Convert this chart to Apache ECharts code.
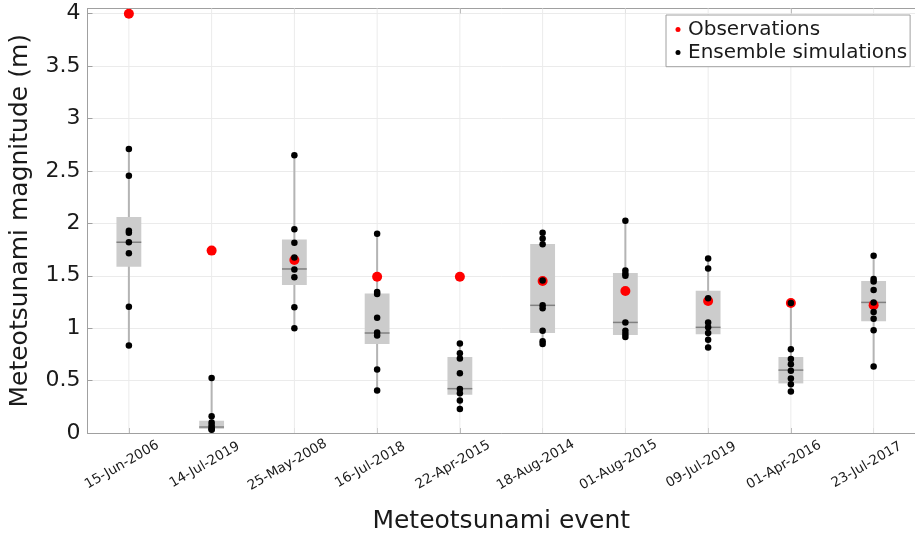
<!DOCTYPE html>
<html>
<head>
<meta charset="utf-8">
<script src="https://cdn.jsdelivr.net/npm/echarts@6/dist/echarts.min.js"></script>
<style>
html,body{margin:0;padding:0;background:#fff;}
#chart{width:915px;height:539px;}
</style>
</head>
<body>
<div id="chart"></div>
<script>
var categories = ['15-Jun-2006','14-Jul-2019','25-May-2008','16-Jul-2018','22-Apr-2015','18-Aug-2014','01-Aug-2015','09-Jul-2019','01-Apr-2016','23-Jul-2017'];
var observations = [4.0, 1.74, 1.65, 1.49, 1.49, 1.45, 1.355, 1.26, 1.24, 1.22];
var ens1 = [2.71, 2.455, 1.93, 1.91, 1.82, 1.715, 1.205, 0.835];
var ens2 = [0.525, 0.16, 0.10, 0.075, 0.05, 0.035, 0.03];
var ens3 = [2.65, 1.945, 1.815, 1.675, 1.56, 1.485, 1.20, 1.00];
var ens4 = [1.90, 1.345, 1.325, 1.10, 0.96, 0.93, 0.605, 0.405];
var ens5 = [0.855, 0.76, 0.71, 0.57, 0.42, 0.38, 0.31, 0.23];
var ens6 = [1.91, 1.855, 1.80, 1.455, 1.22, 1.19, 0.975, 0.875, 0.85];
var ens7 = [2.025, 1.55, 1.52, 1.50, 1.055, 0.975, 0.945, 0.915];
var ens8 = [1.665, 1.57, 1.285, 1.055, 1.01, 0.955, 0.89, 0.815];
var ens9 = [1.24, 0.80, 0.705, 0.655, 0.595, 0.52, 0.465, 0.395];
var ens10 = [1.69, 1.47, 1.445, 1.365, 1.245, 1.155, 1.09, 0.98, 0.635];
var q1 = [1.587, 0.040, 1.412, 0.849, 0.365, 0.954, 0.935, 0.941, 0.473, 1.065];
var median = [1.820, 0.057, 1.565, 0.954, 0.423, 1.218, 1.055, 1.008, 0.600, 1.246];
var q3 = [2.060, 0.117, 1.847, 1.332, 0.725, 1.803, 1.527, 1.358, 0.725, 1.450];
var yTicks = ['0','0.5','1','1.5','2','2.5','3','3.5','4'];

var ensembles = [ens1, ens2, ens3, ens4, ens5, ens6, ens7, ens8, ens9, ens10];
var ensData = [];
ensembles.forEach(function (arr, i) { arr.forEach(function (v) { ensData.push([i, v]); }); });
var obsData = observations.map(function (v, i) { return [i, v]; });
var boxData = categories.map(function (c, i) {
  return [i, Math.min.apply(null, ensembles[i]), q1[i], median[i], q3[i], Math.max.apply(null, ensembles[i])];
});
var Y_MAX = 4.05;
var FONT = 'DejaVu Sans';

var chart = echarts.init(document.getElementById('chart'), null, {renderer: 'canvas'});
chart.setOption({
  animation: false,
  backgroundColor: '#ffffff',
  textStyle: {fontFamily: FONT},
  grid: {left: 87, top: 8.5, width: 829, height: 425, containLabel: false},
  legend: {
    left: 666, top: 15, orient: 'vertical',
    backgroundColor: '#ffffff', borderColor: '#a0a0a0', borderWidth: 1, borderRadius: 0,
    padding: [4, 3, 3.7, 9.5], itemGap: 2, itemWidth: 10, itemHeight: 5,
    textStyle: {fontFamily: FONT, fontSize: 20, color: '#1a1a1a', lineHeight: 21},
    data: [
      {name: 'Observations', icon: 'circle', itemStyle: {color: '#ff0000'}},
      {name: 'Ensemble simulations', icon: 'circle', itemStyle: {color: '#000000'}}
    ]
  },
  xAxis: [{
    type: 'category', data: categories, position: 'bottom', boundaryGap: true,
    axisLine: {show: true, lineStyle: {color: '#a0a0a0', width: 1}},
    axisTick: {show: true, inside: true, alignWithLabel: true, length: 5, lineStyle: {color: '#a0a0a0'}},
    splitLine: {show: false},
    axisLabel: {
      show: true, rotate: 30, interval: 0, align: 'center', verticalAlign: 'middle', margin: 28,
      fontFamily: FONT, fontSize: 13.5, color: '#1a1a1a',
      formatter: function (v) { return '{a|' + v + '}'; },
      rich: {a: {fontFamily: FONT, fontSize: 13.5, color: '#1a1a1a', padding: [0, 16, 0, 0]}}
    },
    name: 'Meteotsunami event', nameLocation: 'middle', nameGap: 76,
    nameTextStyle: {fontFamily: FONT, fontSize: 25, color: '#1a1a1a'}
  }, {
    type: 'category', data: categories, position: 'top', boundaryGap: true,
    axisLine: {show: true, lineStyle: {color: '#a0a0a0', width: 1}},
    axisTick: {show: true, inside: true, alignWithLabel: true, length: 5, lineStyle: {color: '#a0a0a0'}},
    axisLabel: {show: false}, splitLine: {show: false}
  }],
  yAxis: {
    type: 'value', min: 0, max: Y_MAX, interval: 0.5,
    axisLine: {show: true, lineStyle: {color: '#a0a0a0', width: 1}},
    axisTick: {show: true, inside: true, length: 5, lineStyle: {color: '#a0a0a0'}},
    splitLine: {show: true, lineStyle: {color: '#ebebeb', width: 1}},
    axisLabel: {
      showMaxLabel: false, margin: 7, fontFamily: FONT, fontSize: 22, color: '#1a1a1a',
      formatter: function (v) { var i = Math.round(v / 0.5); return (i >= 0 && i < yTicks.length && Math.abs(v - i * 0.5) < 1e-9) ? yTicks[i] : ''; }
    },
    name: 'Meteotsunami magnitude (m)', nameLocation: 'middle', nameGap: 54.5,
    nameTextStyle: {fontFamily: FONT, fontSize: 25, color: '#1a1a1a'}
  },
  series: [{
    type: 'custom', name: 'boxes', z: 1, silent: true,
    data: boxData,
    encode: {x: 0, y: [1, 2, 3, 4, 5]},
    renderItem: function (params, api) {
      var idx = api.value(0);
      var bw = api.size([1, 0])[0] * 0.3;
      var gTop = api.coord([idx, Y_MAX]);
      var gBot = api.coord([idx, 0]);
      var pMin = api.coord([idx, api.value(1)]);
      var pQ1 = api.coord([idx, api.value(2)]);
      var pMed = api.coord([idx, api.value(3)]);
      var pQ3 = api.coord([idx, api.value(4)]);
      var pMax = api.coord([idx, api.value(5)]);
      var x = pMed[0];
      return {
        type: 'group',
        children: [
          {type: 'line', shape: {x1: x, y1: gTop[1], x2: x, y2: gBot[1]}, style: {stroke: '#ebebeb', lineWidth: 1}},
          {type: 'line', shape: {x1: x, y1: pMin[1], x2: x, y2: pMax[1]}, style: {stroke: '#b4b4b4', lineWidth: 2}},
          {type: 'rect', shape: {x: x - bw / 2, y: pQ3[1], width: bw, height: pQ1[1] - pQ3[1]}, style: {fill: '#cccccc', stroke: null}},
          {type: 'line', shape: {x1: x - bw / 2, y1: pMed[1], x2: x + bw / 2, y2: pMed[1]}, style: {stroke: '#808080', lineWidth: 1.5}}
        ]
      };
    }
  }, {
    type: 'scatter', name: 'Observations', z: 3, data: obsData,
    symbol: 'circle', symbolSize: 10, itemStyle: {color: '#ff0000', opacity: 1}
  }, {
    type: 'scatter', name: 'Ensemble simulations', z: 4, data: ensData,
    symbol: 'circle', symbolSize: 6.5, itemStyle: {color: '#000000', opacity: 1}
  }]
});
</script>
</body>
</html>
